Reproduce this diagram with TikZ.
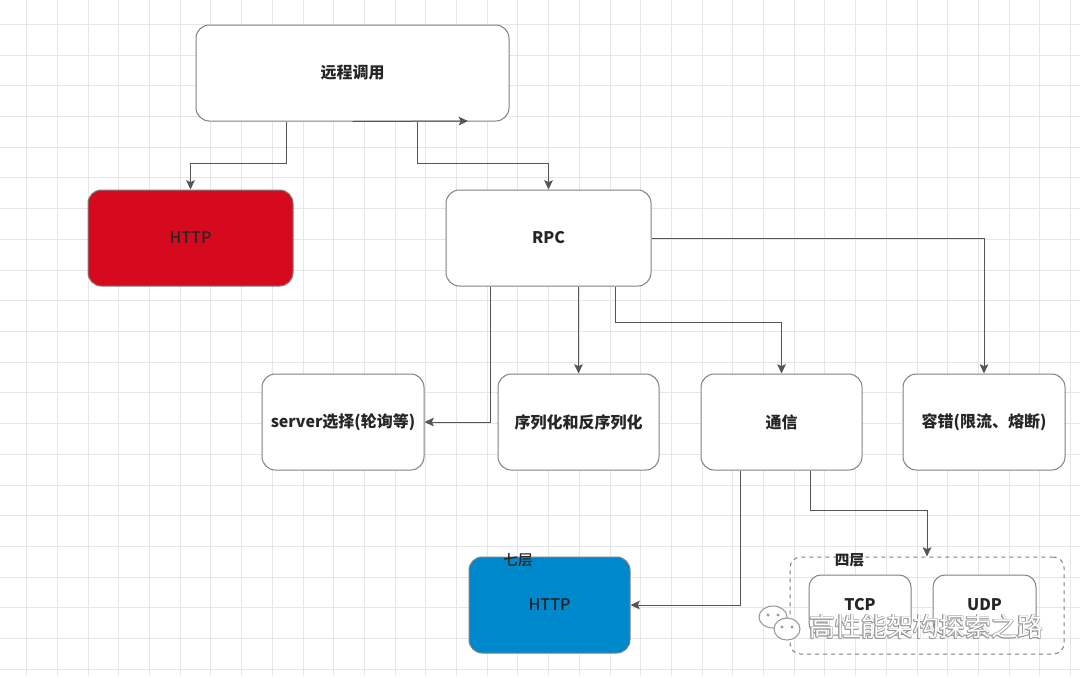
\documentclass[tikz,border=0pt]{standalone}
\usepackage{fontspec}
\setmainfont{Noto Sans CJK SC}
\newfontfamily\mediumfont{Noto Sans CJK SC Medium}
\usetikzlibrary{arrows.meta}

\definecolor{gridgray}{HTML}{E6E6E6}
\definecolor{linegray}{HTML}{555555}
\definecolor{boxgray}{HTML}{808080}
\definecolor{httpred}{HTML}{D50A1E}
\definecolor{httpblue}{HTML}{0088CC}

\tikzset{
  box/.style={draw=boxgray,line width=0.75pt,rounded corners=10pt,fill=white,
    minimum height=72pt,inner sep=0pt,font=\fontsize{12}{14}\selectfont\bfseries,text=black!85},
  conn/.style={draw=linegray,line width=0.75pt,-{Stealth[length=7pt,width=6.5pt,inset=1.5pt]}},
  tag/.style={font=\fontsize{11}{13}\selectfont,text=black!85}
}

\begin{document}
\begin{tikzpicture}[x=0.75pt,y=-0.75pt]
    \useasboundingbox (0,0) rectangle (1080,676);
    \fill[white] (0,0) rectangle (1080,676);

    % grid
    \foreach \i in {0,...,34}
        \draw[gridgray,line width=0.75pt] ({26.7+30.7*\i},0) -- ({26.7+30.7*\i},676);
    \foreach \j in {0,...,21}
        \draw[gridgray,line width=0.75pt] (0,{24.3+30.72*\j}) -- (1080,{24.3+30.72*\j});

    % nodes
    \node[box,minimum width=234.75pt] (top) at (352.5,73) {远程调用};
    \node[box,minimum width=153.75pt,fill=httpred,font=\fontsize{12}{14}\mediumfont] (httpA) at (190.5,238) {HTTP};
    \node[box,minimum width=153.75pt] (rpc) at (548.5,238) {RPC};

    \node[box,minimum width=121.5pt] (srv) at (343,422) {server选择(轮询等)};
    \node[box,minimum width=120.75pt] (ser) at (578.5,422) {序列化和反序列化};
    \node[box,minimum width=120.75pt] (comm) at (781.5,422) {通信};
    \node[box,minimum width=121.5pt] (ft) at (984,422) {容错(限流、熔断)};

    \node[box,minimum width=120.75pt,fill=httpblue,font=\fontsize{12}{14}\mediumfont] (httpB) at (549.5,605) {HTTP};
    \node[tag,font=\fontsize{11}{13}\mediumfont] (seven) at (518,560) {七层};

    \node[draw=boxgray,dashed,line width=0.75pt,rounded corners=8pt,minimum width=205.5pt,minimum height=72.75pt] (four) at (927,605.5) {};
    \node[box,minimum width=76.5pt,minimum height=45pt,rounded corners=9pt] (tcp) at (860,605) {TCP};
    \node[box,minimum width=77.25pt,minimum height=45pt,rounded corners=9pt] (udp) at (984.5,605) {UDP};
    \node[tag,font=\fontsize{11}{13}\selectfont\bfseries] (fourtag) at (849.5,560) {四层};

    % connectors
    \coordinate (tip) at (468,121);
    \draw[conn] (top.south) -- (tip);
    \draw[conn] ([shift={(-66.5,0)}]top.south) -- ++(0,42) -| (httpA.north);
    \draw[conn] ([shift={(64.5,0)}]top.south) -- ++(0,42) -| (rpc.north);

    \draw[conn] ([shift={(-58.5,0)}]rpc.south) |- (srv.east);
    \draw[conn] (rpc.south -| ser.north) -- (ser.north);
    \draw[conn] ([shift={(67,0)}]rpc.south) -- ++(0,36) -| (comm.north);
    \draw[conn] (rpc.east) -| (ft.north);

    \draw[conn] ([shift={(-41.5,0)}]comm.south) |- (httpB.east);
    \draw[conn] ([shift={(28.5,0)}]comm.south) -- ++(0,40) -| (four.north);

    % watermark
    \foreach \a in {0,45,...,315}
        \node[text=gray!80,font=\fontsize{19.5}{22}\selectfont] at ([shift={(\a:0.9)}]926,627) {高性能架构探索之路};
    \node[text=white,font=\fontsize{19.5}{22}\selectfont] (mark) at (926,627) {高性能架构探索之路};
    \draw[gray!80,fill=white,line width=0.8pt] (773,617) ellipse (14 and 11);
    \fill[gray!80] (768,615) circle (1.6) (778,615) circle (1.6);
    \draw[gray!80,fill=white,line width=0.8pt] (787,629) ellipse (13 and 11);
    \fill[gray!80] (782,627) circle (1.6) (792,627) circle (1.6);
\end{tikzpicture}
\end{document}
